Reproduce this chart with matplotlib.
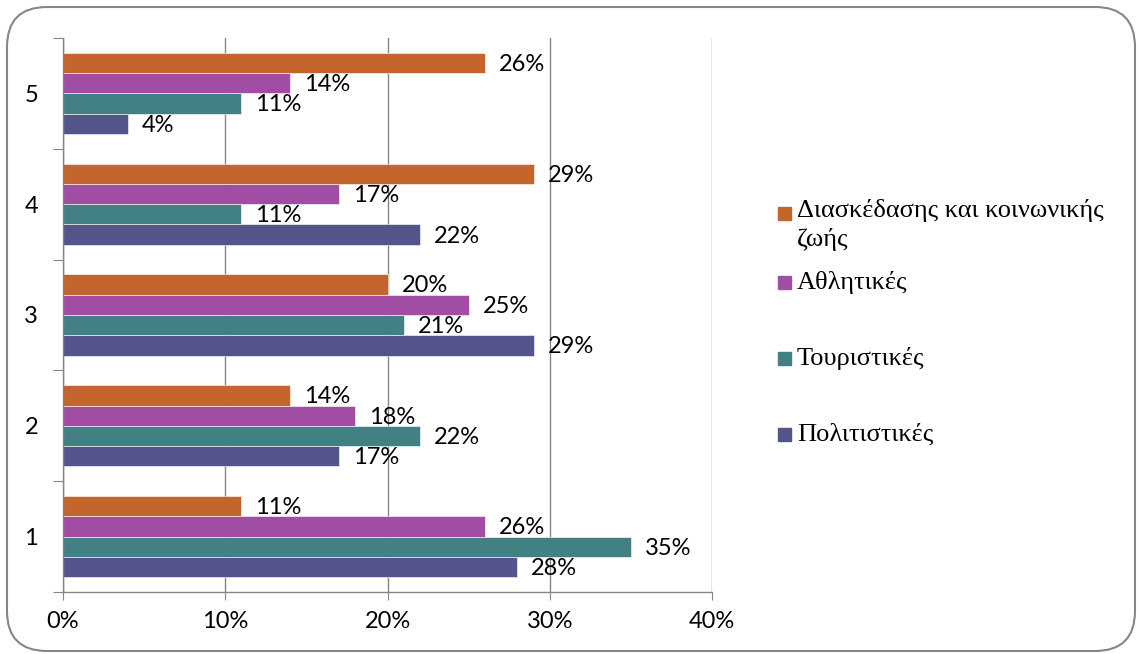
import matplotlib.pyplot as plt
from matplotlib.patches import FancyBboxPatch, Rectangle
from matplotlib.ticker import FixedLocator, NullFormatter

# Δεδομένα
categories = ['1', '2', '3', '4', '5']
series_names = ['Πολιτιστικές', 'Τουριστικές', 'Αθλητικές', 'Διασκέδασης και κοινωνικής\nζωής']
politistikes = [28, 17, 29, 22, 4]
touristikes = [35, 22, 21, 11, 11]
athlitikes = [26, 18, 25, 17, 14]
diaskedasis = [11, 14, 20, 29, 26]
xticks = [0, 10, 20, 30, 40]

colors = ['#52548A', '#428083', '#A04DA3', '#C4652D']
values = [politistikes, touristikes, athlitikes, diaskedasis]

fig = plt.figure(figsize=(11.38, 6.54), dpi=100)
ax = fig.add_axes([63 / 1138, 1 - 592 / 654, (712 - 63) / 1138, (592 - 38) / 654])

h = 0.183
pos = list(range(1, len(categories) + 1))
for i, (vals, col) in enumerate(zip(values, colors)):
    off = (i - 1.5) * h
    y = [p + off for p in pos]
    bars = ax.barh(y, vals, height=h, color=col, edgecolor='#FFFFFF', linewidth=0.4, zorder=3)
    for b, v in zip(bars, vals):
        ax.annotate(f'{v}%', (b.get_width(), b.get_y() + b.get_height() / 2),
                    xytext=(10, -1), textcoords='offset points', ha='left', va='center',
                    fontsize=17, family='Lato', color='black', zorder=4)

ax.set_xlim(0, 40)
ax.set_ylim(0.5, 5.5)
ax.set_xticks(xticks)
ax.set_xticklabels([f'{t}%' for t in xticks], family='Lato', fontsize=17)
ax.tick_params(axis='x', length=6, color='#868686', pad=8)

# κατηγορίες στο κέντρο, γραμμές υποδιαίρεσης στα όρια
ax.yaxis.set_major_locator(FixedLocator([p - 0.5 for p in pos] + [5.5]))
ax.yaxis.set_major_formatter(NullFormatter())
ax.yaxis.set_minor_locator(FixedLocator(pos))
ax.set_yticklabels(categories, minor=True, family='Lato', fontsize=17)
ax.tick_params(axis='y', which='major', length=7, color='#868686')
ax.tick_params(axis='y', which='minor', length=0, pad=18)

ax.grid(axis='x', color='#868686', linewidth=1, zorder=0)
for s in ['top', 'right']:
    ax.spines[s].set_visible(False)
for s in ['left', 'bottom']:
    ax.spines[s].set_color('#868686')
    ax.spines[s].set_linewidth(1)
    ax.spines[s].set_zorder(5)

# Υπόμνημα
leg_y = [434, 358, 282, 213]
for name, col, yy in zip(series_names, colors, leg_y):
    fig.patches.append(Rectangle((778 / 1138, 1 - (yy + 7) / 654), 13 / 1138, 13 / 654,
                                 transform=fig.transFigure, color=col))
    fig.text(797 / 1138, 1 - (yy - 14) / 654 if '\n' in name else 1 - yy / 654, name,
             family='Liberation Serif', fontsize=19,
             va='top' if '\n' in name else 'center', ha='left', linespacing=1.35,
             transform=fig.transFigure)

# Περίγραμμα
border = FancyBboxPatch((0.07, 0.03), 11.38 - 0.1, 6.54 - 0.1,
                        boxstyle='round,pad=0,rounding_size=0.4',
                        transform=fig.dpi_scale_trans, facecolor='none',
                        edgecolor='#868686', linewidth=1.5)
fig.patches.append(border)

fig.savefig('out.png', dpi=100)
